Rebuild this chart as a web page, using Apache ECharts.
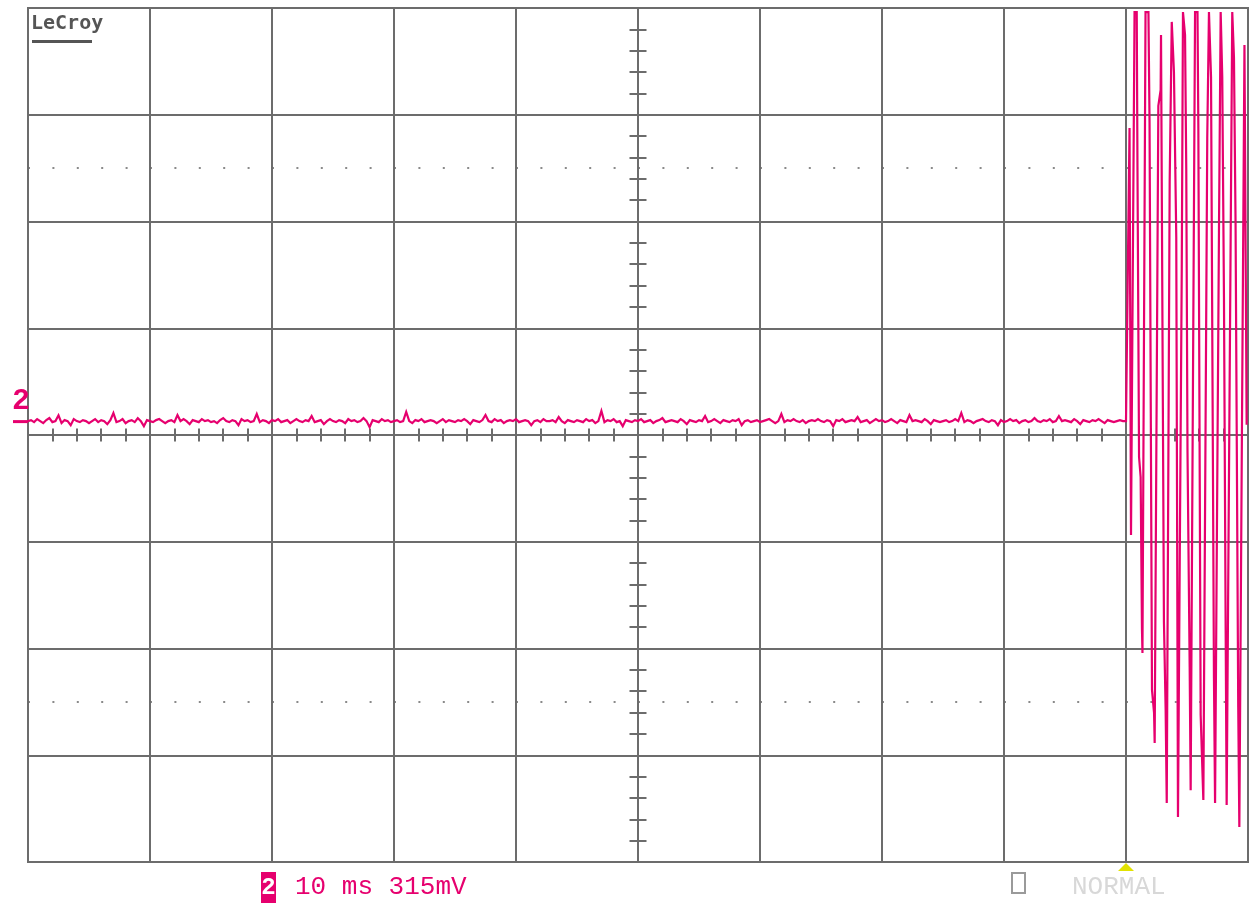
<!DOCTYPE html>
<html>
<head>
<meta charset="utf-8">
<script src="https://cdn.jsdelivr.net/npm/echarts@6/dist/echarts.min.js"></script>
<style>
html,body{margin:0;padding:0;background:#fff;}
#chart{width:1249px;height:905px;}
</style>
</head>
<body>
<div id="chart"></div>
<script>
// ---- Data (time in ms relative to screen centre, voltage in mV, 315 mV/div, 10 ms/div) ----
const X_MIN = -50, X_MAX = 50, X_DIV = 10;          // ms
const Y_MIN = -1260, Y_MAX = 1260, Y_DIV = 315;     // mV
const TRIGGER_MS = 40;                                // trigger position
const GROUND_MV = 41;                                 // channel 2 ground marker level
const LABEL_CH = '2';
const LABEL_SCALE = '10 ms 315mV';
const LABEL_MODE = 'NORMAL';
const LOGO = 'LeCroy';

// baseline noise, sampled every 0.25 ms from -50 ms to 40 ms
const BASE_START = -50, BASE_STEP = 0.25;
const BASE_MV = [
41,44,38,47,41,35,44,50,38,41,58,35,44,41,29,47,41,38,44,41,
35,41,47,38,44,41,32,44,65,38,41,47,35,41,44,38,50,41,26,44,
41,38,44,47,41,35,41,44,38,59,41,47,41,32,44,41,38,47,41,44,
38,41,35,44,50,41,38,44,41,29,47,41,44,38,41,62,38,44,41,35,
44,41,47,38,41,44,35,41,47,41,38,44,41,56,38,41,44,32,41,47,
41,38,44,41,35,47,41,44,38,41,50,41,23,44,41,38,47,41,44,38,
41,44,38,41,68,41,35,44,41,47,38,41,44,41,35,41,47,38,44,41,
38,44,41,47,41,32,44,41,38,44,59,41,38,47,41,44,35,41,44,41,
47,38,41,44,41,29,41,44,38,47,41,41,44,38,53,41,35,44,41,38,
44,41,38,47,41,44,35,41,71,38,44,41,47,38,41,26,44,41,38,44,
41,47,38,41,44,35,41,44,50,38,41,44,41,38,47,41,32,44,41,38,
44,41,56,38,41,47,41,35,44,41,38,44,41,47,29,41,44,38,41,44,
38,41,44,47,41,35,41,62,38,44,41,47,41,38,44,35,41,44,41,47,
41,38,44,41,26,44,41,47,38,41,44,41,53,38,41,44,35,41,47,41,
44,38,41,47,41,35,44,41,38,59,41,44,41,38,47,41,32,44,41,38,
41,44,38,41,47,41,65,38,44,41,35,41,44,47,41,38,44,41,29,44,
38,41,47,41,44,35,41,44,38,41,50,41,38,44,41,47,38,41,56,41,
44,41,38,47,41,32,44,41,38,44,41,47,41,35,44,41,38,41,44,41,
41
];

// burst after the trigger (read point by point)
const BURST_MS = [
40.29,40.41,40.70,40.88,40.94,41.07,41.20,41.31,41.35,
41.60,41.84,41.93,42.13,42.30,42.35,
42.65,42.84,42.87,43.11,43.25,43.34,
43.58,43.75,43.93,44.12,44.26,
44.57,44.67,44.84,44.94,45.04,45.22,45.30,
45.66,45.86,45.93,46.12,46.34,
46.66,46.80,46.97,47.21,47.30,
47.62,47.76,47.89,48.03,48.17,48.25,
48.71,48.85,48.98,49.20,49.29,
49.71,49.89
];
const BURST_MV = [
906,-295,1248,1248,791,-65,-124,-575,-643,
1248,1248,921,-752,-820,-909,
971,1018,1180,-552,-812,-1086,
747,1219,1071,584,-1127,
487,1248,1180,782,-44,-685,-1048,
1248,1248,906,-826,-1077,
876,1248,1056,-717,-1086,
599,1248,1056,407,-581,-1092,
1248,1113,629,-803,-1157,
1151,30
];

// ---- build ----
const TRACE = '#e6006e';
const GRIDC = '#6c6c6c';
const traceData = BASE_MV.map((v, i) => [BASE_START + i * BASE_STEP, v])
  .concat(BURST_MS.map((t, i) => [t, BURST_MV[i]]));

const G = {left: 28, top: 8, width: 1220, height: 854};
const chart = echarts.init(document.getElementById('chart'), null, {renderer: 'canvas'});

const tickStyle = {color: GRIDC, width: 2};
function centerXAxis(pos, split) {
  return {
    gridIndex: 0, type: 'value', min: X_MIN, max: X_MAX, interval: X_DIV, position: pos,
    axisLine: {show: false, onZero: true, onZeroAxisIndex: 0},
    axisTick: {show: true, length: 6.5, lineStyle: tickStyle},
    minorTick: {show: true, splitNumber: 5, length: 6.5, lineStyle: tickStyle},
    axisLabel: {show: false},
    splitLine: {show: split, lineStyle: {color: GRIDC, width: 2}},
    minorSplitLine: {show: false}
  };
}
function centerYAxis(pos, split) {
  return {
    gridIndex: 0, type: 'value', min: Y_MIN, max: Y_MAX, interval: Y_DIV, position: pos,
    axisLine: {show: false, onZero: true, onZeroAxisIndex: 0},
    axisTick: {show: true, length: 8.5, lineStyle: tickStyle},
    minorTick: {show: true, splitNumber: 5, length: 8.5, lineStyle: tickStyle},
    axisLabel: {show: false},
    splitLine: {show: split, lineStyle: {color: GRIDC, width: 2}},
    minorSplitLine: {show: false}
  };
}

chart.setOption({
  animation: false,
  backgroundColor: '#ffffff',
  grid: [
    {left: G.left, top: G.top, width: G.width, height: G.height, show: true,
     borderColor: GRIDC, borderWidth: 2, backgroundColor: 'transparent'},
    {left: G.left, top: G.top + G.height * 1.5 / 8, width: G.width, height: G.height * 5 / 8, show: false}
  ],
  xAxis: [
    centerXAxis('bottom', true),
    centerXAxis('top', false),
    {gridIndex: 1, type: 'value', min: 0, max: 1, show: false}
  ],
  yAxis: [
    centerYAxis('left', true),
    centerYAxis('right', false),
    {gridIndex: 1, type: 'value', min: 0, max: 5, interval: 5,
     axisLine: {show: false}, axisTick: {show: false}, axisLabel: {show: false},
     splitLine: {show: true, lineStyle: {color: '#8a8a8a', width: 2, type: [2, 22.4]}}}
  ],
  series: [{
    type: 'line', xAxisIndex: 0, yAxisIndex: 0, data: traceData,
    symbol: 'none', showSymbol: false, clip: true, z: 5,
    lineStyle: {color: TRACE, width: 2.2, join: 'miter'}
  }]
});

const trig = chart.convertToPixel({xAxisIndex: 0, yAxisIndex: 0}, [TRIGGER_MS, 0]);
const gnd = chart.convertToPixel({xAxisIndex: 0, yAxisIndex: 0}, [X_MIN, GROUND_MV]);
const bottomY = G.top + G.height;
const mono = '"Liberation Mono", "DejaVu Sans Mono", monospace';

chart.setOption({
  graphic: [
    {type: 'text', left: 31, top: 14, z: 10,
     style: {text: LOGO, font: 'bold 20px "DejaVu Sans Mono"', fill: '#555555'}},
    {type: 'rect', z: 10, shape: {x: 32, y: 40, width: 60, height: 3}, style: {fill: '#555555'}},
    // channel ground marker
    {type: 'text', z: 10, x: 12, y: gnd[1] - 5,
     style: {text: LABEL_CH, font: 'bold 30px ' + mono, fill: TRACE, verticalAlign: 'bottom'}},
    {type: 'line', z: 10, shape: {x1: 13, y1: gnd[1] + 0.5, x2: 28, y2: gnd[1] + 0.5},
     style: {stroke: TRACE, lineWidth: 3}},
    // trigger marker
    {type: 'polygon', z: 10, shape: {points: [[trig[0] - 8, bottomY + 9], [trig[0] + 8, bottomY + 9], [trig[0], bottomY + 1]]},
     style: {fill: '#e2e200'}},
    // bottom labels
    {type: 'rect', z: 10, shape: {x: 261, y: 872, width: 15, height: 31}, style: {fill: TRACE}},
    {type: 'text', z: 11, x: 268.5, y: 888,
     style: {text: LABEL_CH, font: 'bold 24px ' + mono, fill: '#ffffff', align: 'center', verticalAlign: 'middle'}},
    {type: 'text', z: 10, x: 295, y: 887,
     style: {text: LABEL_SCALE, font: '26px ' + mono, fill: TRACE, verticalAlign: 'middle'}},
    {type: 'rect', z: 10, shape: {x: 1012, y: 873, width: 13, height: 20},
     style: {fill: 'none', stroke: '#9a9a9a', lineWidth: 2}},
    {type: 'text', z: 10, x: 1072, y: 887,
     style: {text: LABEL_MODE, font: '26px ' + mono, fill: '#d8d8d8', verticalAlign: 'middle'}}
  ]
});
</script>
</body>
</html>
